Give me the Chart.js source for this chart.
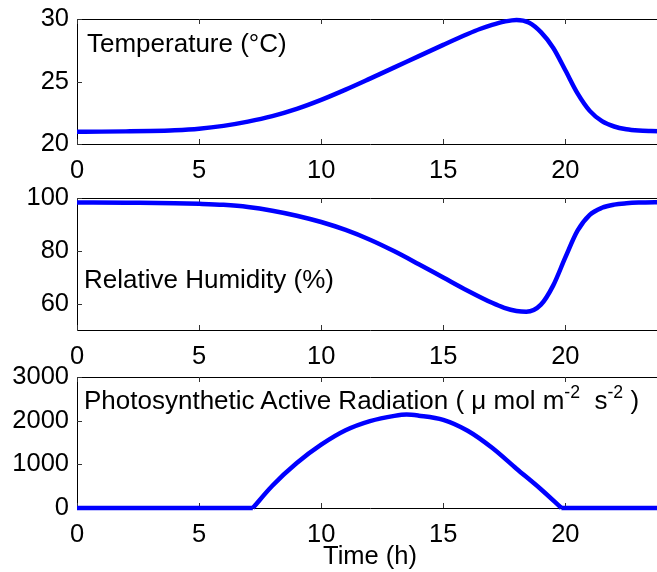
<!DOCTYPE html>
<html lang="en">
<head>
<meta charset="UTF-8" />
<title>Greenhouse climate over one day</title>
<script src="https://cdn.jsdelivr.net/npm/chart.js"></script>
<style>
  html, body { margin: 0; padding: 0; background: #fff; }
  body { width: 657px; height: 572px; position: relative; overflow: hidden;
         font-family: "Liberation Sans", Arial, Helvetica, sans-serif; }
  .panel { position: absolute; left: 0; width: 664px; }
  .note { position: absolute; font-size: 26px; line-height: 1; color: #000; white-space: nowrap; }
  .note sup { font-size: 0.68em; vertical-align: 0.6em; line-height: 0; }
</style>
</head>
<body>
  <div class="panel" style="top:0;height:180px"><canvas id="tempChart"></canvas></div>
  <div class="panel" style="top:179px;height:187px"><canvas id="humChart"></canvas></div>
  <div class="panel" style="top:358px;height:214px"><canvas id="parChart"></canvas></div>

  <div class="note" style="left:87px;top:30px">Temperature (°C)</div>
  <div class="note" style="left:84px;top:266px">Relative Humidity (%)</div>
  <div class="note" style="left:84px;top:387px">Photosynthetic Active Radiation ( μ mol m<sup>-2</sup>&nbsp; s<sup>-2</sup> )</div>

<script>
// readings over the day, hours since midnight
const tempHours  = [0, 1, 2, 3, 4, 5, 6, 7, 8, 9, 10, 11, 12, 13, 14, 15, 16, 16.5, 17, 17.5, 18, 18.5, 19, 19.5, 20, 20.5, 21, 21.5, 22, 22.5, 23, 23.5, 24];
const tempValues = [20.98, 20.99, 21.01, 21.04, 21.1, 21.22, 21.45, 21.79, 22.23, 22.81, 23.53, 24.35, 25.23, 26.13, 27.03, 27.93, 28.8, 29.2, 29.53, 29.79, 29.93, 29.72, 28.95, 27.7, 25.9, 24.05, 22.65, 21.83, 21.4, 21.18, 21.08, 21.04, 21.02];

const humHours  = [0, 2, 4, 5, 6, 7, 8, 9, 10, 11, 12, 13, 14, 15, 16, 17, 17.5, 18, 18.4, 19, 19.5, 20, 20.5, 21, 21.5, 22, 22.5, 23, 24];
const humValues = [98.3, 98.2, 98.05, 97.8, 97.4, 96.6, 95.2, 93.3, 90.9, 87.9, 84.2, 79.8, 74.9, 69.9, 64.9, 60.3, 58.4, 57.2, 56.9, 59.6, 66.8, 77.5, 87.6, 93.6, 96.3, 97.5, 98.0, 98.25, 98.4];

const parHours  = [0, 7.2, 8, 9, 10, 11, 12, 13, 13.5, 14, 15, 16, 17, 18, 19, 19.84, 24];
const parValues = [0, 0, 510, 1030, 1450, 1780, 1990, 2110, 2140, 2115, 2020, 1770, 1380, 900, 430, 0, 0];

const timeTicks = [0, 5, 10, 15, 20];
const tempTicks = [20, 25, 30];
const humTicks  = [60, 80, 100];
const parTicks  = [0, 1000, 2000, 3000];

const FONT = { family: '"Liberation Sans", Arial, Helvetica, sans-serif', size: 25.5 };
const BLUE = '#0000ff';

const toPoints = (xs, ys) => xs.map((x, i) => ({ x, y: ys[i] }));

// box around the axes with short ticks pointing inward
const boxAxes = {
  id: 'boxAxes',
  beforeDatasetsDraw(chart) {
    const { ctx, chartArea: a, scales: { x, y } } = chart;
    ctx.save();
    ctx.strokeStyle = '#000';
    ctx.lineWidth = 1;
    ctx.beginPath();
    ctx.rect(Math.round(a.left) + 0.5, Math.round(a.top) + 0.5, Math.round(a.right - a.left), Math.round(a.bottom - a.top));
    ctx.stroke();
    ctx.strokeStyle = '#333';
    ctx.beginPath();
    x.ticks.forEach(t => {
      const px = Math.round(x.getPixelForValue(t.value)) + 0.5;
      ctx.moveTo(px, a.top); ctx.lineTo(px, a.top + 5);
      ctx.moveTo(px, a.bottom); ctx.lineTo(px, a.bottom - 5);
    });
    y.ticks.forEach(t => {
      const py = Math.round(y.getPixelForValue(t.value)) + 0.5;
      ctx.moveTo(a.left, py); ctx.lineTo(a.left + 5, py);
      ctx.moveTo(a.right, py); ctx.lineTo(a.right - 5, py);
    });
    ctx.stroke();
    ctx.restore();
  }
};

function makeChart(id, datasets, yMin, yMax, yTicks, xAxisHeight, xTitle) {
  return new Chart(document.getElementById(id), {
    type: 'line',
    data: { datasets },
    options: {
      responsive: true,
      maintainAspectRatio: false,
      animation: false,
      layout: { padding: { top: 19, right: 1, left: 0, bottom: 0 } },
      elements: { point: { radius: 0 }, line: { borderWidth: 4.5, borderColor: BLUE } },
      plugins: { legend: { display: false }, tooltip: { enabled: false } },
      scales: {
        x: {
          type: 'linear', min: 0, max: 24,
          grid: { display: false }, border: { display: false },
          afterBuildTicks: s => { s.ticks = timeTicks.map(v => ({ value: v })); },
          afterFit: s => { s.height = xAxisHeight; },
          ticks: { font: FONT, color: '#000', padding: 4, maxRotation: 0, callback: v => String(v) },
          title: xTitle
            ? { display: true, text: xTitle, font: FONT, color: '#000', padding: { top: 0, bottom: 0 } }
            : { display: false }
        },
        y: {
          min: yMin, max: yMax,
          grid: { display: false }, border: { display: false },
          afterBuildTicks: s => { s.ticks = yTicks.map(v => ({ value: v })); },
          afterFit: s => { s.width = 77; },
          ticks: { font: FONT, color: '#000', padding: 0, callback: v => String(v) }
        }
      }
    },
    plugins: [boxAxes]
  });
}

makeChart('tempChart', [{
  data: toPoints(tempHours, tempValues), cubicInterpolationMode: 'monotone', clip: false
}], 20, 30, tempTicks, 36);

makeChart('humChart', [{
  data: toPoints(humHours, humValues), cubicInterpolationMode: 'monotone', clip: false
}], 50, 100, humTicks, 36);

// radiation: flat night segments and the daytime arc, kept apart so the corners stay sharp
const parPoints = toPoints(parHours, parValues);
const nightPoints = parPoints.map(p => p.y === 0 ? p : { x: p.x, y: null });
const dayPoints = parPoints.filter((p, i) => p.y > 0 || parValues[i - 1] > 0 || parValues[i + 1] > 0);

makeChart('parChart', [
  { data: nightPoints, tension: 0, spanGaps: false, clip: false },
  { data: dayPoints, cubicInterpolationMode: 'monotone', clip: false }
], 0, 3000, parTicks, 64, 'Time (h)');
</script>
</body>
</html>
